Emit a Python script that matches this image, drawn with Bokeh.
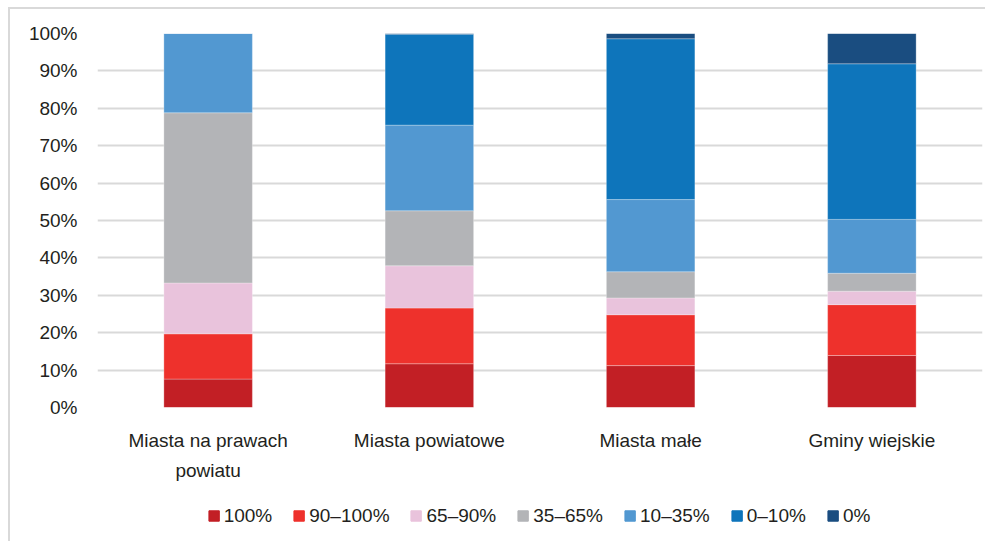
from bokeh.plotting import figure
from bokeh.layouts import column
from bokeh.models import (ColumnDataSource, FixedTicker, Legend, LegendItem, FactorRange,
                          CategoricalAxis, CustomJSTickFormatter, Range1d)
from bokeh.embed import file_html
from bokeh.resources import INLINE

categories = ["Miasta na prawach powiatu", "Miasta powiatowe", "Miasta małe", "Gminy wiejskie"]
label_line1 = ["Miasta na prawach", "Miasta powiatowe", "Miasta małe", "Gminy wiejskie"]
label_line2 = ["powiatu", "", "", ""]
series_names = ["100%", "90–100%", "65–90%", "35–65%", "10–35%", "0–10%", "0%"]

s_100 = [7.6, 11.7, 11.2, 13.9]
s_90_100 = [12.1, 14.9, 13.6, 13.6]
s_65_90 = [13.6, 11.3, 4.5, 3.6]
s_35_65 = [45.5, 14.7, 7.0, 4.8]
s_10_35 = [21.2, 22.9, 19.3, 14.4]
s_0_10 = [0.0, 24.3, 43.0, 41.6]
s_0 = [0.0, 0.2, 1.4, 8.1]

y_ticks = [0, 10, 20, 30, 40, 50, 60, 70, 80, 90, 100]

colors = ["#C21F25", "#EE312C", "#E9C3DC", "#B3B4B7", "#5298D1", "#0E75BB", "#1A4D80"]
keys = ["s_100", "s_90_100", "s_65_90", "s_35_65", "s_10_35", "s_0_10", "s_0"]

source = ColumnDataSource(dict(cat=categories, s_100=s_100, s_90_100=s_90_100, s_65_90=s_65_90,
                               s_35_65=s_35_65, s_10_35=s_10_35, s_0_10=s_0_10, s_0=s_0))

FONT = "Liberation Sans"
FS = "19px"
TXT = "#231F20"
BORDER = "2px solid #D9D9D9"

p = figure(x_range=FactorRange(*categories, range_padding=0), y_range=(0, 100),
           frame_width=883, frame_height=372, output_backend="svg", toolbar_location=None,
           min_border_left=87, min_border_right=5, min_border_top=24, min_border_bottom=85)
p.styles = {"margin-left": "8px", "margin-top": "7px", "border-top": BORDER, "border-left": BORDER}
p.outline_line_color = None
p.background_fill_color = "white"
p.border_fill_color = "white"

p.vbar_stack(keys, x="cat", width=0.4, color=colors, source=source,
             line_color="white", line_alpha=0.35, line_width=0.8)

p.xgrid.grid_line_color = None
p.ygrid.grid_line_color = "#D9D9D9"
p.ygrid.grid_line_width = 2
p.ygrid.ticker = FixedTicker(ticks=y_ticks)

p.yaxis.ticker = FixedTicker(ticks=y_ticks)
p.yaxis.major_label_overrides = {t: f"{t}%" for t in y_ticks}
p.yaxis.axis_line_color = None
p.yaxis.major_tick_line_color = None
p.yaxis.minor_tick_line_color = None
p.yaxis.major_label_standoff = 14
p.yaxis.major_label_text_font = FONT
p.yaxis.major_label_text_font_size = FS
p.yaxis.major_label_text_color = TXT

def style_x(ax, standoff, labels):
    ax.axis_line_color = None
    ax.major_tick_line_color = None
    ax.minor_tick_line_color = None
    ax.major_label_standoff = standoff
    ax.major_label_text_font = FONT
    ax.major_label_text_font_size = FS
    ax.major_label_text_color = TXT
    ax.formatter = CustomJSTickFormatter(args=dict(m=dict(zip(categories, labels))),
                                         code="return (tick in m) ? m[tick] : tick;")

style_x(p.xaxis[0], 16, label_line1)

ax2 = CategoricalAxis()
style_x(ax2, 0, label_line2)
p.add_layout(ax2, "below")

# legend strip below the chart (same series, bars kept out of its view)
p2 = figure(x_range=p.x_range, y_range=Range1d(200, 300), width=975, height=51,
            output_backend="svg", toolbar_location=None,
            x_axis_location=None, y_axis_location=None,
            min_border_left=0, min_border_right=0, min_border_top=0, min_border_bottom=0)
p2.styles = {"margin-left": "8px", "border-left": BORDER}
p2.outline_line_color = None
p2.background_fill_color = "white"
p2.border_fill_color = "white"
for g in p2.grid:
    g.visible = False

leg_renderers = p2.vbar_stack(keys, x="cat", width=0.4, color=colors, source=source)

items = [LegendItem(label=n, renderers=[r]) for n, r in zip(series_names, leg_renderers)]
legend = Legend(items=items, orientation="horizontal", location="center",
                label_text_font=FONT, label_text_font_size=FS, label_text_color=TXT,
                glyph_width=13, glyph_height=13, label_standoff=4, spacing=20,
                border_line_color=None, background_fill_alpha=0, margin=0, padding=4)
p2.add_layout(legend, "center")

layout = column(p, p2, spacing=0)
open("out.html", "w").write(file_html(layout, INLINE))
